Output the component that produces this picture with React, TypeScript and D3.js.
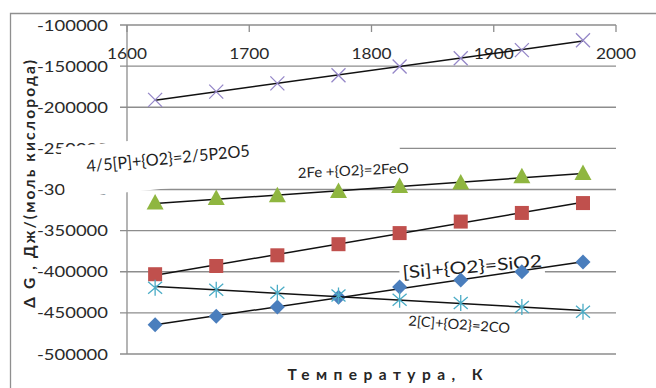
import React from 'react';
import * as d3 from 'd3';

// Temperatures, K
const temperatures = [1623, 1673, 1723, 1773, 1823, 1873, 1923, 1973];

// ΔG, J per mole of O2 for each reaction
const phosphorusDG = [-191000, -181000, -171000, -161000, -150500, -140500, -130500, -118500];
const ironDG = [-316500, -311000, -307500, -302500, -296500, -292000, -284500, -280500];
const squareSeriesDG = [-403000, -393000, -380000, -366500, -353000, -339000, -328500, -316500];
const siliconDG = [-464500, -454000, -443000, -431000, -418500, -410000, -400000, -388000];
const carbonDG = [-419500, -422000, -425500, -429000, -434000, -438000, -443000, -448500];

const xTicks = [1600, 1700, 1800, 1900, 2000];
const yTicks = [-100000, -150000, -200000, -250000, -300000, -350000, -400000, -450000, -500000];

const W = 656;
const H = 388;
const plot = { left: 127, right: 616, top: 25, bottom: 354 };

const x = d3.scaleLinear().domain([1600, 2000]).range([plot.left, plot.right]);
const y = d3.scaleLinear().domain([-500000, -100000]).range([plot.bottom, plot.top]);

const gridColor = '#8d8d8d';
const font = 'Lato, "Open Sans", "Liberation Sans", sans-serif';

// least-squares linear trend
function trend(xs: number[], ys: number[]) {
  const mx = d3.mean(xs)!;
  const my = d3.mean(ys)!;
  let num = 0;
  let den = 0;
  xs.forEach((v, i) => {
    num += (v - mx) * (ys[i] - my);
    den += (v - mx) * (v - mx);
  });
  const b = num / den;
  const a = my - b * mx;
  const x0 = d3.min(xs)!;
  const x1 = d3.max(xs)!;
  return [
    [x0, a + b * x0],
    [x1, a + b * x1],
  ] as [number, number][];
}

const line = d3
  .line<[number, number]>()
  .x((d) => x(d[0]))
  .y((d) => y(d[1]));

// rectangle in a rotated frame anchored at (ox, oy)
function rotatedBox(ox: number, oy: number, deg: number, lx0: number, lx1: number, ly0: number, ly1: number) {
  const r = (deg * Math.PI) / 180;
  const c = Math.cos(r);
  const s = Math.sin(r);
  const pts = [
    [lx0, ly0],
    [lx1, ly0],
    [lx1, ly1],
    [lx0, ly1],
  ].map(([lx, ly]) => [ox + lx * c - ly * s, oy + lx * s + ly * c]);
  return pts.map((p) => p.join(',')).join(' ');
}

type MarkerProps = { cx: number; cy: number };

const Cross = ({ cx, cy }: MarkerProps) => (
  <path
    d={`M${cx - 7},${cy - 7}L${cx + 7},${cy + 7}M${cx - 7},${cy + 7}L${cx + 7},${cy - 7}`}
    stroke="#9587c8"
    strokeWidth={1.3}
    fill="none"
  />
);

const Triangle = ({ cx, cy }: MarkerProps) => (
  <path d={`M${cx},${cy - 9}L${cx + 8.5},${cy + 6.5}L${cx - 8.5},${cy + 6.5}Z`} fill="#8fb640" />
);

const Square = ({ cx, cy }: MarkerProps) => (
  <rect x={cx - 7} y={cy - 7} width={14} height={14} fill="#c0504d" />
);

const Diamond = ({ cx, cy }: MarkerProps) => (
  <path d={`M${cx},${cy - 7.5}L${cx + 7.5},${cy}L${cx},${cy + 7.5}L${cx - 7.5},${cy}Z`} fill="#4a7ebd" />
);

const Star = ({ cx, cy }: MarkerProps) => (
  <path
    d={`M${cx - 7},${cy - 6}L${cx + 7},${cy + 6}M${cx - 7},${cy + 6}L${cx + 7},${cy - 6}M${cx},${cy - 8}L${cx},${cy + 8}`}
    stroke="#4bacc6"
    strokeWidth={1.3}
    fill="none"
  />
);

const series = [
  { values: phosphorusDG, Marker: Cross },
  { values: ironDG, Marker: Triangle },
  { values: squareSeriesDG, Marker: Square },
  { values: siliconDG, Marker: Diamond },
  { values: carbonDG, Marker: Star },
];

export default function App() {
  return (
    <svg
      width={W}
      height={H}
      viewBox={`0 0 ${W} ${H}`}
      style={{ position: 'absolute', left: 0, top: 0, display: 'block', background: '#fff' }}
    >
      <rect x={0} y={0} width={W} height={H} fill="#fff" />
      {/* chart frame */}
      <path d={`M10.5,${H}V13.5H${W}`} stroke="#8f8f8f" strokeWidth={1.3} fill="none" />

      {/* horizontal gridlines with outside tick marks */}
      {yTicks.map((t) => (
        <line key={t} x1={plot.left - 7} x2={plot.right} y1={y(t)} y2={y(t)} stroke={gridColor} strokeWidth={1.3} />
      ))}
      {/* value axis */}
      <line x1={plot.left} x2={plot.left} y1={plot.top} y2={plot.bottom} stroke={gridColor} strokeWidth={1.3} />
      {/* category axis ticks along the top */}
      {xTicks.map((t) => (
        <line key={t} x1={x(t)} x2={x(t)} y1={plot.top} y2={plot.top + 7} stroke={gridColor} strokeWidth={1.3} />
      ))}

      {/* tick labels */}
      {yTicks.map((t) => (
        <text
          key={t}
          x={108}
          y={y(t) + 5.5}
          textAnchor="end"
          fontFamily={font}
          fontSize={15}
          fill="#2a2a2a"
          textLength={71}
          lengthAdjust="spacingAndGlyphs"
        >
          {d3.format('d')(t).replace('−', '-')}
        </text>
      ))}
      {xTicks.map((t) => (
        <text
          key={t}
          x={x(t)}
          y={58.5}
          textAnchor="middle"
          fontFamily={font}
          fontSize={15}
          fill="#2a2a2a"
          textLength={40}
          lengthAdjust="spacingAndGlyphs"
        >
          {t}
        </text>
      ))}

      {/* axis titles */}
      <text
        transform="translate(34.5,184) rotate(-90)"
        textAnchor="middle"
        fontFamily={font}
        fontWeight="bold"
        fontSize={15.5}
        fill="#262626"
        textLength={248}
        lengthAdjust="spacing"
      >
        Δ G , Дж/(моль кислорода)
      </text>
      <text
        x={385}
        y={380}
        textAnchor="middle"
        fontFamily={font}
        fontWeight="bold"
        fontSize={15.5}
        fill="#262626"
        textLength={195}
        lengthAdjust="spacing"
      >
        Температура, К
      </text>

      {/* reaction labels */}
      <polygon points={rotatedBox(87, 172, -5.5, -24, 172, -27, 24)} fill="#fff" />
      <polygon points={rotatedBox(298, 178, -2.6, -42, 103, -34, 4)} fill="#fff" />
      <polygon points={rotatedBox(403, 278.5, -4.8, -3, 142, -16, 7)} fill="#fff" />

      <text
        transform="translate(87,172) rotate(-5.5)"
        fontFamily={font}
        fontSize={16.5}
        fill="#1e1e1e"
        textLength={164}
        lengthAdjust="spacingAndGlyphs"
      >
        4/5[P]+{'{O2}'}=2/5P2O5
      </text>
      <text
        transform="translate(298,178) rotate(-2.6)"
        fontFamily={font}
        fontSize={14}
        fill="#1e1e1e"
        textLength={111}
        lengthAdjust="spacingAndGlyphs"
      >
        2Fe +{'{O2}'}=2FeO
      </text>
      <text
        transform="translate(403,278.5) rotate(-4.8)"
        fontFamily={font}
        fontSize={17}
        fill="#1e1e1e"
        textLength={140}
        lengthAdjust="spacingAndGlyphs"
      >
        [Si]+{'{O2}'}=SiO2
      </text>
      <text
        transform="translate(408,325.5) rotate(4.3)"
        fontFamily={font}
        fontSize={14}
        fill="#1e1e1e"
        textLength={102}
        lengthAdjust="spacingAndGlyphs"
      >
        2[C]+{'{O2}'}=2CO
      </text>

      {/* series: markers and linear trendlines */}
      {series.map(({ values, Marker }, si) => (
        <g key={si}>
          <path d={line(trend(temperatures, values)) || ''} stroke="#111" strokeWidth={1.5} fill="none" />
          {values.map((v, i) => (
            <Marker key={i} cx={x(temperatures[i])} cy={y(v)} />
          ))}
        </g>
      ))}
    </svg>
  );
}
